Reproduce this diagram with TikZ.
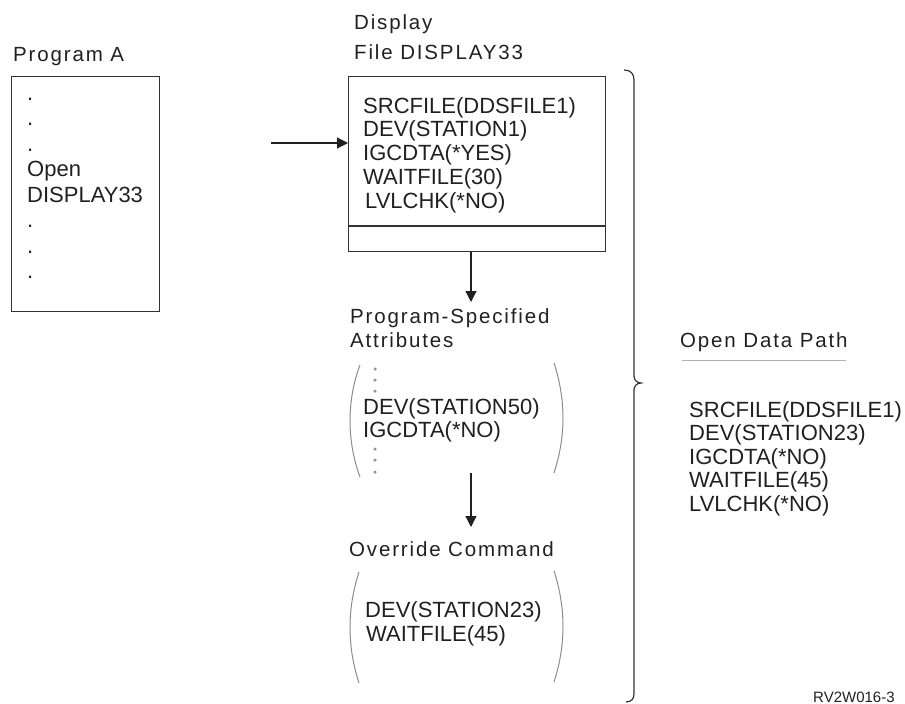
\documentclass[tikz,border=0pt]{standalone}
\usepackage{fontspec}
\setmainfont{Liberation Sans}
\newfontfamily\ttlfont[LetterSpace=9]{Liberation Sans}
\usetikzlibrary{arrows.meta,calc}
\definecolor{txt}{RGB}{35,31,32}
\definecolor{boxc}{RGB}{50,50,50}
\definecolor{parc}{RGB}{140,140,140}
\definecolor{rulec}{RGB}{175,175,175}
\definecolor{dotc}{RGB}{150,150,150}
\begin{document}
\begin{tikzpicture}[x=1pt,y=-1pt,
  body/.style={font=\fontsize{22}{24}\selectfont, text=txt, inner sep=0pt, anchor=base west},
  ttl/.style={font=\ttlfont\fontsize{20.5}{22}\selectfont, text=txt, inner sep=0pt, anchor=base west},
  frame/.style={draw=boxc, line width=1.2pt, inner sep=0pt, anchor=north west},
  arr/.style={draw=txt, line width=1.2pt, -{Triangle[length=11pt,width=11pt]}},
  paren/.style={draw=parc, line width=1pt},
  gdot/.style={fill=dotc, circle, inner sep=0pt, minimum size=3.5pt}]
\useasboundingbox (0,0) rectangle (905,704);

% Program A
\node[ttl] (pa) at (13,61) {Program A};
\node[frame, minimum width=148pt, minimum height=235pt] (pbox) at (11,76) {};
\node[body] (p1) at (27,100) {.};
\node[body] (p2) at (27,125.5) {.};
\node[body] (p3) at (27,151) {.};
\node[body] (p4) at (27,176.5) {Open};
\node[body] (p5) at (27,202) {DISPLAY33};
\node[body] (p6) at (27,227.5) {.};
\node[body] (p7) at (27,253) {.};
\node[body] (p8) at (27,278.5) {.};

% Display file
\node[ttl] (dt1) at (354,29) {Display};
\node[ttl] (dt2) at (354,59) {File DISPLAY33};
\node[frame, minimum width=257pt, minimum height=175pt] (disp) at (348,76) {};
\coordinate (divl) at (348,226);
\draw[boxc, line width=1.2pt] (divl) -- (divl -| disp.east);
\node[body] (d1) at (363,113) {SRCFILE(DDSFILE1)};
\node[body] (d2) at (363,136.75) {DEV(STATION1)};
\node[body] (d3) at (363,160.5) {IGCDTA(*YES)};
\node[body] (d4) at (363,184.25) {WAITFILE(30)};
\node[body] (d5) at (365,208) {LVLCHK(*NO)};

% arrows
\coordinate (a1) at (271,143);
\draw[arr] (a1) -- (a1 -| disp.west);
\coordinate (a2) at (471,302);
\draw[arr] (a2 |- disp.south) -- (a2);

% Program-specified attributes
\node[ttl] (ps1) at (350,323) {Program-Specified};
\node[ttl] (ps2) at (350,347) {Attributes};
\draw[paren] (360,365) .. controls (346.7,400) and (346.7,441) .. (360,477);
\draw[paren] (554,363) .. controls (566,400) and (566,436) .. (554,473);
\node[gdot] (g1) at (375,369) {};
\node[gdot] (g2) at (375,380) {};
\node[gdot] (g3) at (375,391) {};
\node[gdot] (g4) at (375,449) {};
\node[gdot] (g5) at (375,460) {};
\node[gdot] (g6) at (375,472) {};
\node[body] (s1) at (363,414) {DEV(STATION50)};
\node[body] (s2) at (363,437) {IGCDTA(*NO)};

\coordinate (a3s) at (471,473);
\coordinate (a3e) at (471,527);
\draw[arr] (a3s) -- (a3e);

% Override command
\node[ttl] (oc) at (349,556) {Override Command};
\draw[paren] (359,572) .. controls (347,609) and (347,646) .. (359,683);
\draw[paren] (554,571) .. controls (566,608) and (566,645) .. (554,682);
\node[body] (o1) at (365,617) {DEV(STATION23)};
\node[body] (o2) at (366,641) {WAITFILE(45)};

% brace
\draw[boxc, line width=1.2pt] (624,70) .. controls (631,70) and (634,74) .. (634,80)
  -- (634,376) .. controls (634,380) and (637,383) .. (641,383)
  .. controls (637,383) and (634,386) .. (634,390)
  -- (634,694) .. controls (634,699) and (631,702) .. (626,702);

% Open data path
\node[ttl] (odp) at (680,347) {Open Data Path};
\coordinate (rl) at (682,360);
\coordinate (rr) at (846,360);
\draw[rulec, line width=1pt] (rl) -- (rr);
\node[body] (r1) at (689,417) {SRCFILE(DDSFILE1)};
\node[body] (r2) at (689,440.5) {DEV(STATION23)};
\node[body] (r3) at (689,464) {IGCDTA(*NO)};
\node[body] (r4) at (689,487.5) {WAITFILE(45)};
\node[body] (r5) at (689,511) {LVLCHK(*NO)};

\node[body, font=\fontsize{15}{17}\selectfont] (fig) at (813,702) {RV2W016-3};
\end{tikzpicture}
\end{document}
